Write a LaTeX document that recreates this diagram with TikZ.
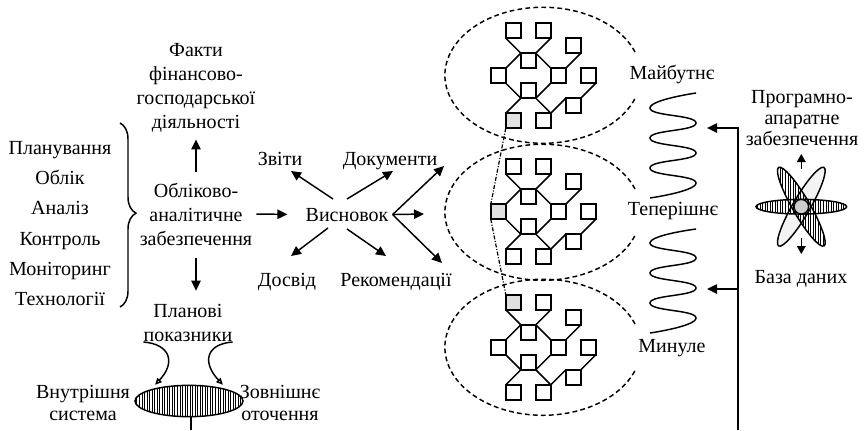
\documentclass[tikz,border=0pt]{standalone}
\usepackage{fontspec}
\setmainfont{Liberation Serif}
\usepackage{tikz}
\usetikzlibrary{arrows.meta,shapes.geometric,patterns.meta,decorations.pathreplacing}
\definecolor{boxgray}{gray}{0.88}
\definecolor{coregray}{gray}{0.8}
\tikzset{
	lbl/.style={font=\fontsize{15}{18}\selectfont, align=center, inner sep=0pt},
	word/.style={lbl, anchor=base},
	tightlbl/.style={font=\fontsize{15}{16}\selectfont, align=center, inner sep=0pt},
	box/.style={fill=white, draw=black, shape=rectangle, minimum size=11.25pt, inner sep=0pt, outer sep=0pt, line width=1.1pt},
	link/.style={line width=1.1pt},
	ring/.style={line width=1.1pt, dash pattern=on 3.6pt off 2.4pt},
	chain/.style={line width=0.9pt, dash pattern=on 3pt off 1.2pt on 0.8pt off 1.2pt},
	coil/.style={line width=1.1pt, smooth, tension=1},
	arr/.style={line width=1.1pt, -{Triangle[length=7.5pt,width=7pt]}},
	smallarr/.style={line width=1.1pt, -{Triangle[length=6pt,width=6.5pt]}},
	openarr/.style={line width=1.1pt, -{Triangle[open,length=5pt,width=4.5pt]}},
	hatched/.style={draw=black, line width=1.1pt, pattern={Lines[angle=90,distance=1.9pt,line width=0.5pt]}},
	petal/.style={shape=ellipse, inner sep=0pt, minimum width=68pt, minimum height=13pt},
	fut9/.style={fill=boxgray},
	pres4/.style={fill=boxgray},
	past0/.style={fill=boxgray},
}

\begin{document}
\begin{tikzpicture}[x=0.75pt,y=-0.75pt]
	\useasboundingbox (0,0) rectangle (864,430);

	% left column
	\node [word] (planning) at (60,154) {Планування};
	\node [word] (account) at (60,184) {Облік};
	\node [word] (analysis) at (60,214) {Аналіз};
	\node [word] (control) at (60,245) {Контроль};
	\node [word] (monitor) at (60,275) {Моніторинг};
	\node [word] (tech) at (60,305) {Технології};
	\coordinate (bracetop) at (120,123);
	\coordinate (bracebot) at (120,307);
	\draw [link, decorate, decoration={brace, amplitude=12pt, aspect=0.49}] (bracetop) -- (bracebot);

	% centre column
	\node [lbl] (facts) at (196,88) {Факти\\фінансово-\\господарської\\діяльності};
	\node [lbl] (support) at (196,214) {Обліково-\\аналітичне\\забезпечення};
	\node [lbl] (targets) at (188,323) {Планові\\показники};
	\node [word] (concl) at (347,221) {Висновок};
	\node [word] (reports) at (280,165) {Звіти};
	\node [word] (docs) at (390,165) {Документи};
	\node [word] (exper) at (287,286) {Досвід};
	\node [word] (recom) at (396,286) {Рекомендації};

	\draw [arr, shorten <=8pt, shorten >=5pt] (support.north) to (facts.south);
	\draw [arr, shorten <=9pt, shorten >=10pt] (support.south) to (support.south |- targets.north);
	\draw [arr, shorten <=3pt, shorten >=13.5pt] (support.east) to (concl.west);
	\draw [arr] ([shift={(-14,-22)}]concl.base) to ([shift={(11,6)}]reports.base);
	\draw [arr] ([shift={(0,-22)}]concl.base) to ([shift={(3,6)}]docs.base);
	\draw [arr] ([shift={(-19,7)}]concl.base) to ([shift={(4,-30)}]exper.base);
	\draw [arr] ([shift={(0,8)}]concl.base) to ([shift={(-10,-30)}]recom.base);

	\coordinate (fanup) at (444,166);
	\coordinate (fanmid) at (424,214);
	\coordinate (fanlow) at (442,263);
	\draw [arr] ([xshift=3pt]concl.east) to (fanup);
	\draw [arr] ([xshift=3pt]concl.east) to (fanmid);
	\draw [arr] ([xshift=3pt]concl.east) to (fanlow);

	% bottom ellipse
	\node [hatched, shape=ellipse, inner sep=0pt, minimum width=81pt, minimum height=23.5pt] (system) at (189,401) {};
	\node [tightlbl] (inner) at (83,403) {Внутрішня\\система};
	\node [tightlbl] (outer) at (280,403) {Зовнішнє\\оточення};
	\coordinate (stub) at (191,430);
	\draw [link] (system.south -| stub) to (stub);
	\draw [openarr, shorten >=5pt] (targets.south west) .. controls +(26,2) and +(26,-28) .. (system.north west);
	\draw [openarr, shorten >=5pt] (targets.south east) .. controls +(-26,2) and +(-26,-28) .. (system.north east);

	% trees in the rings
	\foreach \t/\ty in {fut/30.7,pres/166.7,past/302.3} {
		\foreach \n/\c/\r in {0/1/0,1/3/0,2/5/1,3/2/2,4/0/3,5/4/3,6/6/3,7/2/4,8/5/5,9/1/6,10/3/6} {
			\node [box, \t\n/.try] (\t\n) at ({498.3+\c*15},{\ty+\r*15}) {};
		}
		\foreach \a/\b in {0.south west/3.north west,1.south east/3.north east,2.south east/5.north east,
			3.north west/4.north east,3.north east/5.north west,4.south east/7.south west,
			5.south west/7.south east,6.south east/8.north east,8.north west/10.north east,
			7.south east/10.north east,7.south west/9.north west} {
			\draw [link] (\t\a) to (\t\b);
		}
	}
	\draw [ring] (635,52) arc [start angle=-20, end angle=-340, x radius=98, y radius=68];
	\draw [ring] (635,189) arc [start angle=-20, end angle=-340, x radius=98, y radius=68];
	\draw [ring] (635,324) arc [start angle=-20, end angle=-340, x radius=98, y radius=68];
	\draw [chain] (fut9.south west) to (pres4.north west);
	\draw [chain] (pres4.south west) to (past0.north west);

	% time labels and coils
	\node [word] (future) at (672,79) {Майбутнє};
	\node [word] (present) at (673,215) {Теперішнє};
	\node [word] (past) at (672,352) {Минуле};
	\draw [coil] plot coordinates {(696,93) (650,108) (696,123) (650,138) (696,153) (650,168) (696,183) (650,198)};
	\draw [coil] plot coordinates {(696,229) (650,243) (696,258) (650,273) (696,288) (650,303) (696,318) (650,333)};

	\coordinate (busend) at (738,430);
	\coordinate (busmid) at (738,289);
	\coordinate (coiltop) at (707,128);
	\coordinate (coilmid) at (707,289);
	\draw [arr] (busend) |- (coiltop);
	\draw [arr] (busmid) to (coilmid);

	% atom on the right
	\node [tightlbl] (hardware) at (802,118) {Програмно-\\апаратне\\забезпечення};
	\node [word] (database) at (801,283) {База даних};
	\node [petal, draw=black, line width=1.1pt, fill=boxgray!40, rotate=60] (petalb) at (801.3,206.7) {};
	\node [petal, hatched, rotate=-60] (petala) at (801.3,206.7) {};
	\node [petal, hatched, minimum height=11pt] (petalc) at (801.3,206.7) {};
	\node [draw=black, line width=1.1pt, fill=coregray, shape=circle, minimum size=11pt, inner sep=0pt] (core) at (801.3,206.7) {};
	\draw [smallarr] (core |- 0,169) to (core |- 0,154);
	\draw [smallarr] (core |- 0,238) to (core |- 0,254);
\end{tikzpicture}
\end{document}
